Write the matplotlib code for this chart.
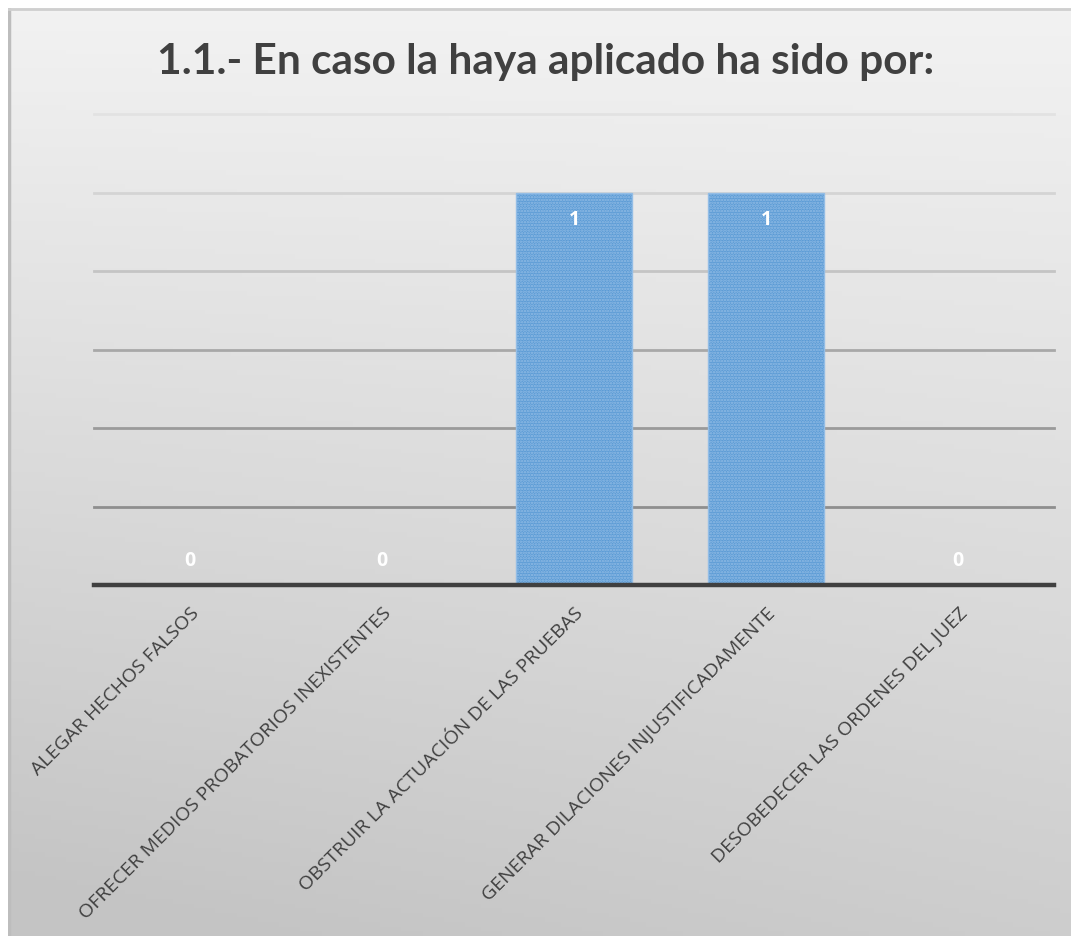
import numpy as np
import matplotlib
matplotlib.use("Agg")
import matplotlib.pyplot as plt
from matplotlib.colors import LinearSegmentedColormap

# ---- data ----
categories = [
    "ALEGAR HECHOS FALSOS",
    "OFRECER MEDIOS PROBATORIOS INEXISTENTES",
    "OBSTRUIR LA ACTUACIÓN DE LAS PRUEBAS",
    "GENERAR DILACIONES INJUSTIFICADAMENTE",
    "DESOBEDECER LAS ORDENES DEL JUEZ",
]
values = [0, 0, 1, 1, 0]
title = "1.1.- En caso la haya aplicado ha sido por:"

W, H = 1071, 936
plt.rcParams['hatch.linewidth'] = 1.2
fig = plt.figure(figsize=(W / 100, H / 100), dpi=100, facecolor="white")

# background gradient panel
bg = fig.add_axes([8 / W, 0, (W - 8) / W, (H - 8) / H], zorder=-5)
ny, nx = 200, 200
yy, xx = np.mgrid[0:1:ny * 1j, 0:1:nx * 1j]
grad = 0.8 * yy + 0.25 * (1 - xx) * yy
cmap = LinearSegmentedColormap.from_list("g", ["#f2f2f2", "#c4c4c4"])
bg.imshow(grad, cmap=cmap, aspect="auto", extent=[0, 1, 0, 1], origin="upper",
          vmin=0, vmax=1)
bg.set_xlim(0, 1)
bg.set_ylim(0, 1)
bg.axis("off")
bg.plot([0.001, 0.001], [0, 1], color="#bdbdbd", lw=2.5, transform=bg.transAxes)
bg.plot([0, 1], [0.999, 0.999], color="#cfcfcf", lw=2, transform=bg.transAxes)

# main axes
left, right, top, bottom = 94, 1054, 114, 585
ax = fig.add_axes([left / W, 1 - bottom / H, (right - left) / W, (bottom - top) / H])
ax.set_facecolor("none")
x = np.arange(len(categories))
ax.bar(x, values, width=0.604, color="#5b9bd5", edgecolor="#93bde6",
       hatch="......", linewidth=1.0, zorder=3)
ax.set_xlim(-0.5, len(categories) - 0.5)
ax.set_ylim(0, 1.2)

# gridlines with gradient colours
ticks = [0.2, 0.4, 0.6, 0.8, 1.0, 1.2]
gcols = ["#8e8e8e", "#9a9a9a", "#a8a8a8", "#c4c4c4", "#d4d4d4", "#e2e2e2"]
for t, c in zip(ticks, gcols):
    ax.axhline(t, color=c, lw=2, zorder=1, clip_on=False)
ax.axhline(0, color="#404040", lw=3.2, zorder=4, clip_on=False)

for s in ax.spines.values():
    s.set_visible(False)
ax.set_yticks([])
ax.set_xticks(x)
ax.set_xticklabels(categories, rotation=45, ha="right", rotation_mode="anchor",
                   fontsize=14, color="#404040", family="Open Sans")
ax.tick_params(axis="x", length=0, pad=14)

for xi, v in zip(x, values):
    off = -19.5 if v > 0 else 17.5
    ax.annotate(str(v), (xi, v), xytext=(0, off), textcoords="offset points",
                ha="center", va="center", color="white", fontsize=14,
                fontweight="bold", family="Open Sans", zorder=5)

fig.text(546 / W, 1 - 62 / H, title, ha="center", va="center", fontsize=30.5,
         fontweight="bold", color="#404040", family="Lato")

fig.savefig("out.png", dpi=100, facecolor=fig.get_facecolor())
